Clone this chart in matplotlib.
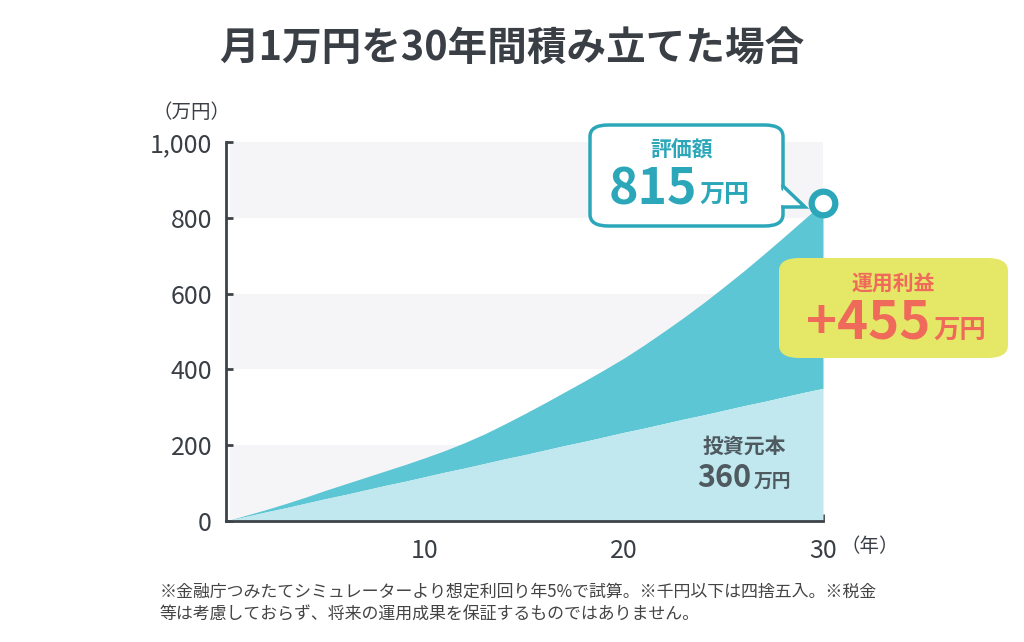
import matplotlib.pyplot as plt
from matplotlib.patches import FancyBboxPatch, Polygon

plt.rcParams['font.family'] = ['Noto Sans CJK JP', 'DejaVu Sans']

# data (万円), one point per year
years = list(range(31))
total = [0, 15, 30, 46, 63, 81, 98, 115, 132, 149, 167, 186, 207, 230, 256, 283,
         311, 340, 369, 399, 430, 464, 500, 537, 576, 617, 659, 703, 748, 794, 840]
principal = [0, 12, 24, 35, 47, 59, 70, 82, 94, 105, 117, 129, 140, 152, 164, 175,
             187, 199, 210, 222, 234, 245, 257, 269, 280, 292, 304, 315, 327, 339, 350]
y_ticks = [0, 200, 400, 600, 800, 1000]
x_ticks = [5, 10, 15, 20, 25, 30]
x_labels = ["", "10", "", "20", "", "30"]

W, H = 1024, 642
DARK = "#5cc6d4"
LIGHT = "#c0e8ee"
STRIPE = "#f5f5f7"
AXIS = "#3d4349"
TEAL = "#2ba7b9"
CORAL = "#ef6a5b"
YELLOW = "#e5e866"


def px(x, y):
    return (x / W, 1 - y / H)


fig = plt.figure(figsize=(W / 100, H / 100), dpi=100)
ax = fig.add_axes([226 / W, 1 - 521 / H, 597 / W, 379 / H])

for lo in (0, 400, 800):
    ax.axhspan(lo, lo + 200, xmin=0.006, color=STRIPE, lw=0, zorder=0)

ax.fill_between(years, principal, total, color=DARK, lw=0, zorder=2)
ax.fill_between(years, 0, principal, color=LIGHT, lw=0, zorder=2)
ax.plot([years[-1]], [total[-1]], "o", ms=17, mfc="white", mec=TEAL, mew=4.5,
        zorder=5, clip_on=False)

ax.set_xlim(0, 30)
ax.set_ylim(0, 1000)
ax.set_yticks(y_ticks)
ax.set_yticklabels([f"{v:,}" for v in y_ticks])
ax.set_xticks(x_ticks)
ax.set_xticklabels(x_labels)
ax.tick_params(direction="in", length=5, width=2, color=AXIS, labelcolor="#3a3f45",
               labelsize=18)
ax.tick_params(axis="y", pad=10)
ax.tick_params(axis="x", pad=12)
for s in ("top", "right"):
    ax.spines[s].set_visible(False)
for s in ("left", "bottom"):
    ax.spines[s].set_color(AXIS)
    ax.spines[s].set_linewidth(2)

fig.text(*px(512, 48), "月1万円を30年間積み立てた場合", ha="center", va="center",
         fontsize=28.5, fontweight="bold", color="#3a3f45")
fig.text(*px(191, 112), "（万円）", ha="center", va="center", fontsize=14,
         color="#3a3f45")
fig.text(*px(841, 547), "（年）", ha="left", va="center", fontsize=14,
         color="#3a3f45")

# 評価額 callout
box = FancyBboxPatch(px(590, 226), 193 / W, 101 / H, transform=fig.transFigure,
                     boxstyle="round,pad=0,rounding_size=0.018", fc="white",
                     ec=TEAL, lw=2.5, zorder=6)
fig.add_artist(box)
tri = [px(783, 186), px(805, 207), px(783, 207)]
cover = [px(779, 188), px(803, 207), px(779, 205)]
fig.add_artist(Polygon(tri, closed=True, transform=fig.transFigure, fc="white",
                       ec="none", zorder=7))
fig.add_artist(Polygon(cover, closed=True, transform=fig.transFigure, fc="white",
                       ec="none", zorder=7))
fig.add_artist(plt.Line2D([tri[0][0], tri[1][0], tri[2][0]],
                          [tri[0][1], tri[1][1], tri[2][1]],
                          transform=fig.transFigure, color=TEAL, lw=2.5,
                          solid_joinstyle="miter", zorder=8))
fig.text(*px(682, 150), "評価額", ha="center", va="center", fontsize=15,
         fontweight="bold", color=TEAL, zorder=9)
fig.text(*px(697, 190), "815", ha="right", va="center", fontsize=36,
         fontweight="bold", color=TEAL, zorder=9)
fig.text(*px(699, 196), "万円", ha="left", va="center", fontsize=18,
         fontweight="bold", color=TEAL, zorder=9)

# 運用利益 callout
box2 = FancyBboxPatch(px(779, 358), 229 / W, 100 / H, transform=fig.transFigure,
                      boxstyle="round,pad=0,rounding_size=0.02", fc=YELLOW,
                      ec="none", zorder=6)
fig.add_artist(box2)
fig.text(*px(893, 283), "運用利益", ha="center", va="center", fontsize=15,
         fontweight="bold", color=CORAL, zorder=9)
fig.text(*px(930, 323), "+455", ha="right", va="center", fontsize=38,
         fontweight="bold", color=CORAL, zorder=9)
fig.text(*px(933, 330), "万円", ha="left", va="center", fontsize=19,
         fontweight="bold", color=CORAL, zorder=9)

# 投資元本 label
fig.text(*px(744, 446), "投資元本", ha="center", va="center", fontsize=15,
         fontweight="bold", color="#4f5960", zorder=9)
fig.text(*px(751, 478), "360", ha="right", va="center", fontsize=22,
         fontweight="bold", color="#4f5960", zorder=9)
fig.text(*px(754, 481), "万円", ha="left", va="center", fontsize=13.5,
         fontweight="bold", color="#4f5960", zorder=9)

fig.text(*px(160, 592),
         "※金融庁つみたてシミュレーターより想定利回り年5%で試算。※千円以下は四捨五入。※税金",
         ha="left", va="center", fontsize=12.2, color="#444444")
fig.text(*px(160, 615),
         "等は考慮しておらず、将来の運用成果を保証するものではありません。",
         ha="left", va="center", fontsize=12.2, color="#444444")

fig.savefig("out.png", dpi=100)
